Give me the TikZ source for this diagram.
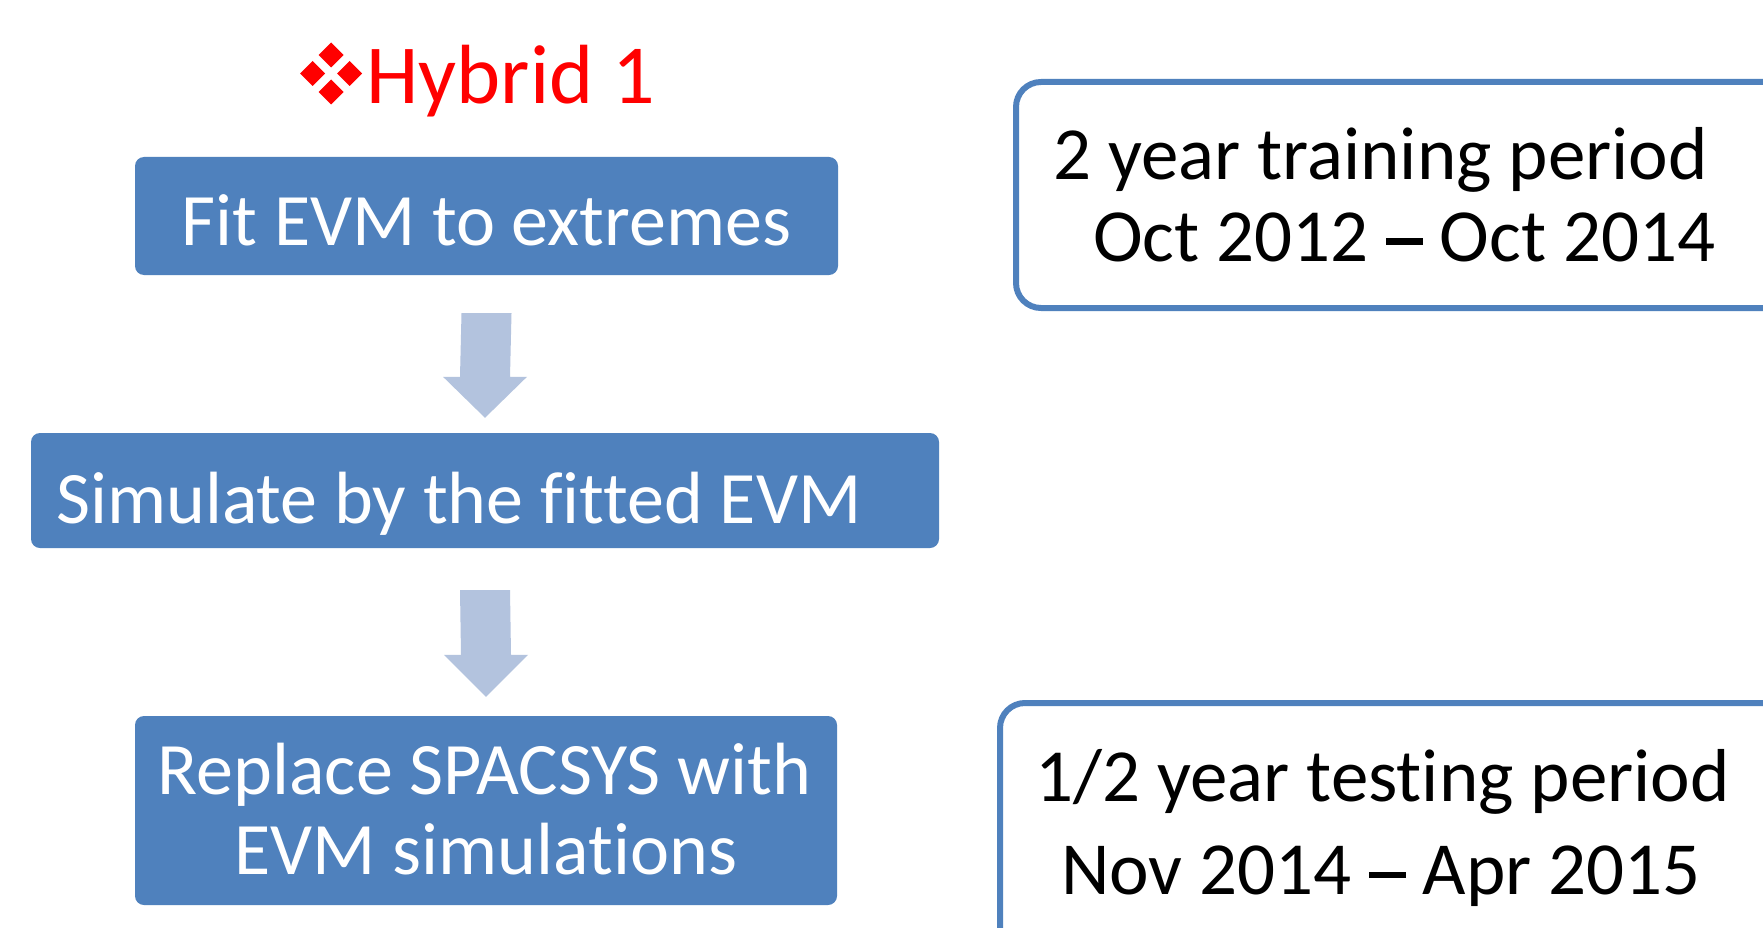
\documentclass[tikz,border=0pt]{standalone}
\usepackage{fontspec}
\usetikzlibrary{calc}
\setmainfont{Carlito}[Ligatures={NoCommon,TeX}]
\definecolor{boxblue}{RGB}{79,129,189}
\definecolor{arrowblue}{RGB}{179,195,222}
\definecolor{titlered}{RGB}{255,0,0}
\newcommand\longdash{\makebox[0.498em]{\rule[0.21em]{0.5em}{0.09em}}}
\tikzset{
  bluebox/.style={fill=boxblue, draw=none, rounded corners=9pt, inner sep=0pt},
  periodbox/.style={draw=boxblue, line width=6pt, fill=white, rounded corners=25pt},
  boxtext/.style={text=white, font=\fontsize{74}{88}\selectfont, inner sep=0pt},
  periodtext/.style={text=black, font=\fontsize{75}{88}\selectfont, inner sep=0pt},
  blockarrow/.style={fill=arrowblue, draw=none},
  diam/.style={fill=titlered, draw=none}
}
\begin{document}
\begin{tikzpicture}[x=1pt,y=-1pt]
\useasboundingbox (0,0) rectangle (1763,928);
\clip (0,0) rectangle (1763,928);
\fill[white] (0,0) rectangle (1763,928);
% title bullet (four diamonds)
\foreach \cx/\cy in {331/55, 312.5/73.5, 349.5/73.5, 331/92}{
  \fill[diam] (\cx,\cy-12.5) -- (\cx+12.5,\cy) -- (\cx,\cy+12.5) -- (\cx-12.5,\cy) -- cycle;
}
\node[anchor=base west, inner sep=0pt, text=titlered, font=\fontsize{84}{100}\selectfont] (title) at (366,104) {Hybrid 1};
% left flow boxes
\node[bluebox, minimum width=703pt, minimum height=118pt] (b1) at (486.5,216) {};
\node[boxtext, anchor=base] (t1) at (486.5,245) {Fit EVM to extremes};
\node[bluebox, minimum width=908pt, minimum height=115pt] (b2) at (485,490.5) {};
\node[boxtext, anchor=base west] (t2) at (56,523) {Simulate by the fitted EVM};
\node[bluebox, minimum width=702pt, minimum height=189pt] (b3) at (486,810.5) {};
\node[boxtext, anchor=base] (t3a) at (484.5,794) {Replace SPACSYS with};
\node[boxtext, anchor=base] (t3b) at (486,874) {EVM simulations};
% block arrows between boxes
\path (b1.south) ++(0,38) coordinate (a1top);
\path (b2.north) ++(0,-15) coordinate (a1tip);
\fill[blockarrow] ($(a1top)+(-25,0)$) -- ($(a1top)+(25,0)$) -- ($(a1tip)+(25,-41)$) -- ($(a1tip)+(42,-41)$) -- (a1tip) -- ($(a1tip)+(-42,-41)$) -- ($(a1tip)+(-25,-41)$) -- cycle;
\path (b2.south) ++(0,42) coordinate (a2top);
\path (b3.north) ++(0,-19) coordinate (a2tip);
\fill[blockarrow] ($(a2top)+(-25,0)$) -- ($(a2top)+(25,0)$) -- ($(a2tip)+(25,-42)$) -- ($(a2tip)+(42,-42)$) -- (a2tip) -- ($(a2tip)+(-42,-42)$) -- ($(a2tip)+(-25,-42)$) -- cycle;
% right period boxes
\draw[periodbox] (1016,82) rectangle (1790,308);
\node[periodtext, anchor=base west] (p1a) at (1053,180) {2 year training period};
\node[periodtext, anchor=base west] (p1b) at (1093,261) {Oct 2012 \longdash{} Oct 2014};
\draw[periodbox] (1000,703) rectangle (1790,960);
\node[periodtext, anchor=base west] (p2a) at (1035,801) {1/2 year testing period};
\node[periodtext, anchor=base west] (p2b) at (1061,894) {Nov 2014 \longdash{} Apr 2015};
\end{tikzpicture}
\end{document}
